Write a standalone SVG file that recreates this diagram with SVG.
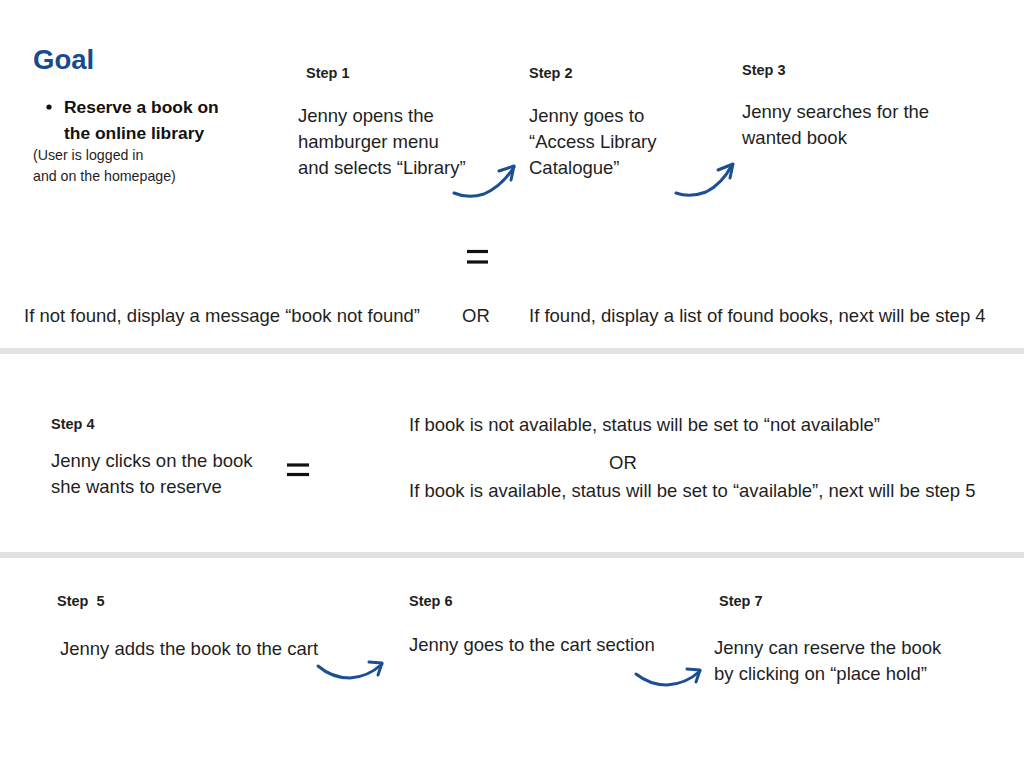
<svg xmlns="http://www.w3.org/2000/svg" width="1024" height="768" viewBox="0 0 1024 768">
<defs>
<style>
.t{font-family:"Liberation Sans",Arial,sans-serif;font-size:18.5px;fill:#1f1f1f}
.s{font-family:"Liberation Sans",Arial,sans-serif;font-size:14.5px;font-weight:bold;fill:#1f1f1f;white-space:pre}
.b{font-family:"Liberation Sans",Arial,sans-serif;font-size:17.4px;font-weight:bold;fill:#111}
.n{font-family:"Liberation Sans",Arial,sans-serif;font-size:14.2px;fill:#1f1f1f}
.g{font-family:"Liberation Sans",Arial,sans-serif;font-size:27.5px;font-weight:bold;fill:#174a8e}
.arr{fill:none;stroke:#1b4f95;stroke-width:3;stroke-linecap:round;stroke-linejoin:round}
.eq{stroke:#111;stroke-width:3.2}
.bar{fill:#e2e2e2}
</style>
</defs>
<rect width="1024" height="768" fill="#fff"/>
<g id="goal">
<text class="g" x="33" y="69">Goal</text>
<circle cx="49" cy="107" r="2.6" fill="#111"/>
<text class="b" x="64" y="113">Reserve a book on</text>
<text class="b" x="64" y="139">the online library</text>
<text class="n" x="33" y="160">(User is logged in</text>
<text class="n" x="33" y="181">and on the homepage)</text>
</g>
<g id="step1">
<text class="s" x="306" y="78">Step 1</text>
<text class="t" x="298" y="122">Jenny opens the</text>
<text class="t" x="298" y="148">hamburger menu</text>
<text class="t" x="298" y="174">and selects “Library”</text>
</g>
<g id="step2">
<text class="s" x="529" y="78">Step 2</text>
<text class="t" x="529" y="122">Jenny goes to</text>
<text class="t" x="529" y="148">“Access Library</text>
<text class="t" x="529" y="174">Catalogue”</text>
</g>
<g id="step3">
<text class="s" x="742" y="75">Step 3</text>
<text class="t" x="742" y="118">Jenny searches for the</text>
<text class="t" x="742" y="144">wanted book</text>
</g>
<g id="result3">
<line class="eq" x1="467" y1="251.5" x2="488" y2="251.5"/>
<line class="eq" x1="467" y1="262" x2="488" y2="262"/>
<text class="t" x="24" y="322">If not found, display a message “book not found”</text>
<text class="t" x="462" y="322">OR</text>
<text class="t" x="529" y="322">If found, display a list of found books, next will be step 4</text>
</g>
<rect class="bar" x="0" y="348" width="1024" height="6"/>
<g id="step4">
<text class="s" x="51" y="429">Step 4</text>
<text class="t" x="51" y="467">Jenny clicks on the book</text>
<text class="t" x="51" y="493">she wants to reserve</text>
</g>
<g id="result4">
<line class="eq" x1="287" y1="465" x2="309" y2="465"/>
<line class="eq" x1="287" y1="474.5" x2="309" y2="474.5"/>
<text class="t" x="409" y="431">If book is not available, status will be set to “not available”</text>
<text class="t" x="609" y="469">OR</text>
<text class="t" x="409" y="497">If book is available, status will be set to “available”, next will be step 5</text>
</g>
<rect class="bar" x="0" y="552" width="1024" height="6"/>
<g id="step5">
<text class="s" x="57" y="606">Step  5</text>
<text class="t" x="60" y="655">Jenny adds the book to the cart</text>
</g>
<g id="step6">
<text class="s" x="409" y="606">Step 6</text>
<text class="t" x="409" y="651">Jenny goes to the cart section</text>
</g>
<g id="step7">
<text class="s" x="719" y="606">Step 7</text>
<text class="t" x="714" y="654">Jenny can reserve the book</text>
<text class="t" x="714" y="680">by clicking on “place hold”</text>
</g>
<g id="connectors">
<path class="arr" d="M454 193 Q468 199 484 194 Q502 186 514 167"/>
<path class="arr" d="M499 171 L514 166 L511 180"/>
<path class="arr" d="M676 193 Q690 198 706 192 Q722 184 732 165"/>
<path class="arr" d="M718 170 L733 164 L730 178"/>
<path class="arr" d="M318 666 Q332 678 350 678 Q368 677 382 664"/>
<path class="arr" d="M369 662 L382 663 L378 675"/>
<path class="arr" d="M636 674 Q650 685 667 685 Q686 684 700 671"/>
<path class="arr" d="M687 669 L700 670 L696 682"/>
</g>
</svg>
